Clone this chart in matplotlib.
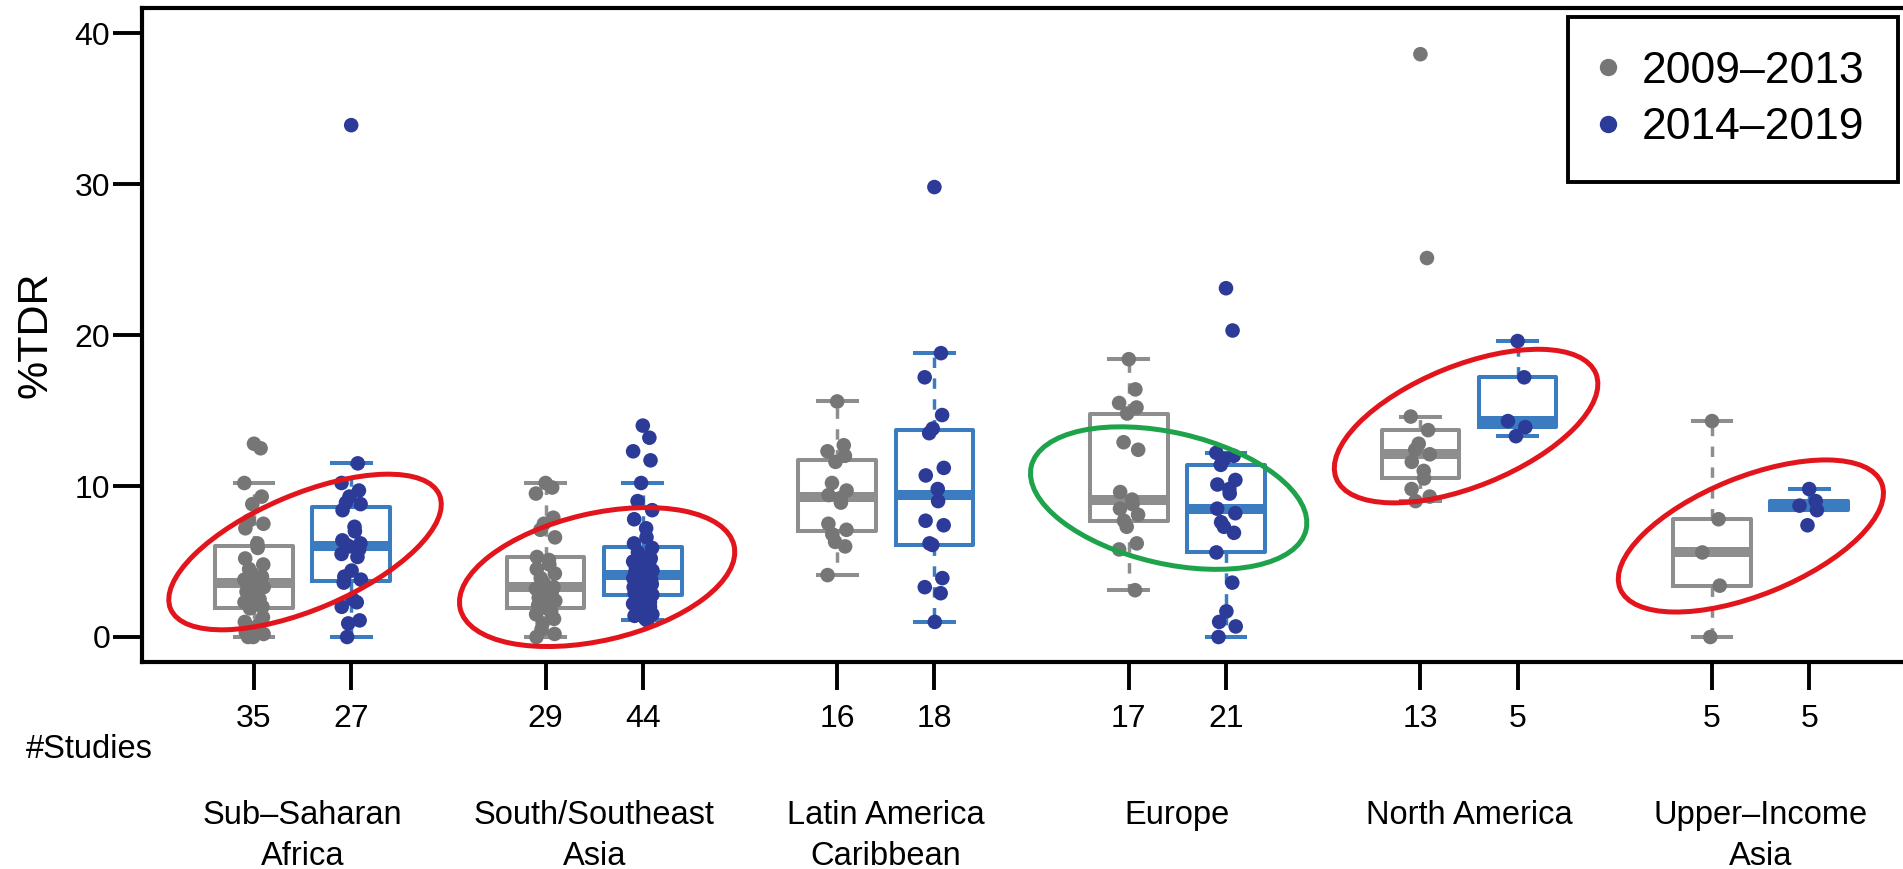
import numpy as np
import matplotlib.pyplot as plt
from matplotlib.patches import Ellipse
from matplotlib.lines import Line2D
from matplotlib.transforms import IdentityTransform, blended_transform_factory

plt.rcParams['font.family'] = ['Liberation Sans', 'DejaVu Sans']

# Regiuni si perioade
regions = ['Sub–Saharan\nAfrica', 'South/Southeast\nAsia', 'Latin America\nCaribbean',
           'Europe', 'North America', 'Upper–Income\nAsia']
periods = ['2009–2013', '2014–2019']

# %TDR pe studiu
ssa_0913 = [12.8, 12.5, 10.2, 9.3, 8.8, 7.7, 7.5, 7.2, 6.2, 5.9, 5.2, 4.8, 4.5, 4.2, 4.0, 3.8, 3.7, 3.6,
            3.5, 3.3, 3.0, 2.8, 2.5, 2.3, 2.0, 2.0, 1.9, 1.3, 1.0, 0.8, 0.5, 0.3, 0.2, 0.0, 0.0]
ssa_1419 = [33.9, 11.5, 10.2, 9.7, 9.3, 8.9, 8.8, 8.4, 7.3, 7.0, 6.4, 6.2, 6.1, 6.0, 5.8, 5.5, 5.3,
            4.4, 4.0, 3.8, 3.6, 2.5, 2.3, 2.0, 1.1, 0.9, 0.0]
ssea_0913 = [10.2, 9.9, 9.5, 7.9, 7.5, 7.1, 6.6, 5.3, 5.1, 4.8, 4.5, 4.2, 3.9, 3.6, 3.3, 3.2, 3.0,
             2.8, 2.6, 2.4, 2.1, 1.9, 1.7, 1.5, 1.2, 0.9, 0.5, 0.2, 0.0]
ssea_1419 = [14.0, 13.2, 12.3, 11.7, 10.2, 9.0, 8.4, 7.8, 7.2, 6.6, 6.2, 5.9, 5.6, 5.4, 5.2, 5.0, 4.9,
             4.7, 4.6, 4.4, 4.3, 4.2, 4.0, 3.9, 3.8, 3.7, 3.6, 3.5, 3.3, 3.2, 3.0, 2.9, 2.8, 2.6,
             2.5, 2.3, 2.2, 2.0, 1.9, 1.7, 1.5, 1.4, 1.2, 1.1]
latin_0913 = [15.6, 12.7, 12.3, 12.0, 11.6, 10.2, 9.7, 9.4, 9.2, 8.9, 7.5, 7.1, 6.8, 6.3, 6.0, 4.1]
latin_1419 = [29.8, 18.8, 17.2, 14.7, 13.8, 13.5, 11.2, 10.7, 9.8, 9.0, 7.7, 7.4, 6.2, 6.1, 3.9,
              3.3, 2.9, 1.0]
europe_0913 = [18.4, 16.4, 15.5, 15.2, 14.8, 12.9, 12.4, 9.6, 9.1, 8.8, 8.5, 8.1, 7.7, 7.3, 6.2, 5.8, 3.1]
europe_1419 = [23.1, 20.3, 12.2, 12.0, 11.8, 11.4, 10.4, 10.1, 9.8, 9.5, 8.5, 8.2, 7.6, 7.3, 6.9,
               5.6, 3.6, 1.7, 1.0, 0.7, 0.0]
na_0913 = [38.6, 25.1, 14.6, 13.7, 12.8, 12.4, 12.1, 11.6, 11.0, 10.5, 9.8, 9.3, 9.0]
na_1419 = [19.6, 17.2, 14.3, 13.9, 13.3]
uia_0913 = [14.3, 7.8, 5.6, 3.4, 0.0]
uia_1419 = [9.8, 9.0, 8.7, 8.4, 7.4]

date_0913 = [ssa_0913, ssea_0913, latin_0913, europe_0913, na_0913, uia_0913]
date_1419 = [ssa_1419, ssea_1419, latin_1419, europe_1419, na_1419, uia_1419]

# Culori
gri_cutie, gri_punct = '#8e8e8e', '#767676'
albastru_cutie, albastru_punct = '#3a7cbf', '#2c3b98'

fig = plt.figure(figsize=(19.03, 8.69), dpi=100)
ax = fig.add_axes([142 / 1903, 1 - 662 / 869, (1924 - 142) / 1903, (662 - 8) / 869])

poz_0913 = [3 * i + 1 for i in range(len(regions))]
poz_1419 = [3 * i + 2 for i in range(len(regions))]

for date, poz, cc, cp in [(date_0913, poz_0913, gri_cutie, gri_punct),
                          (date_1419, poz_1419, albastru_cutie, albastru_punct)]:
    ax.boxplot(date, positions=poz, widths=0.8, whis=1.5, showfliers=False,
               boxprops=dict(color=cc, linewidth=2.9),
               medianprops=dict(color=cc, linewidth=7.2, solid_capstyle='butt'),
               whiskerprops=dict(color=cc, linewidth=2.5, linestyle=(0, (3, 3))),
               capprops=dict(color=cc, linewidth=2.9),
               zorder=2)
    for valori, x in zip(date, poz):
        n = len(valori)
        jitter = 0.1 * np.sin(np.arange(n) * 2.39996)
        ax.scatter(x + jitter, valori, s=110, color=cp, edgecolors='none', zorder=3)

ax.set_xlim(1 - 112 / 97.2, 1 + 1670 / 97.2)
ax.set_ylim(-1.656, 41.66)

ax.set_yticks([0, 10, 20, 30, 40])
ax.tick_params(axis='y', length=21, width=2.8, labelsize=23, pad=2)
poz_toate = sorted(poz_0913 + poz_1419)
nr_studii = []
for i in range(len(regions)):
    nr_studii += [len(date_0913[i]), len(date_1419[i])]
ax.set_xticks(poz_toate)
ax.set_xticklabels([str(v) for v in nr_studii])
ax.tick_params(axis='x', length=20, width=2.8, labelsize=23, pad=10)
for s in ax.spines.values():
    s.set_linewidth(3)

fig.text(35 / 1903, 1 - 335 / 869, '%TDR', rotation=90, ha='center', va='center', fontsize=31)
fig.text(89 / 1903, 1 - 758 / 869, '#Studies', ha='center', va='baseline', fontsize=23.5)

tr = blended_transform_factory(ax.transData, fig.transFigure)
for i, nume in enumerate(regions):
    ax.text(3 * i + 1.5, 1 - 800 / 869, nume, transform=tr, ha='center', va='top',
            fontsize=23.5, linespacing=1.4, multialignment='center')

# Legenda
manere = [Line2D([], [], marker='o', linestyle='none', color=gri_punct, markersize=11.5),
          Line2D([], [], marker='o', linestyle='none', color=albastru_punct, markersize=11.5)]
leg = ax.legend(manere, periods, loc='upper right', bbox_to_anchor=(1898 / 1903, 1 - 17 / 869),
                bbox_transform=fig.transFigure, borderaxespad=0, fontsize=32, frameon=True,
                fancybox=False, edgecolor='black', framealpha=1, borderpad=0.76,
                handlelength=0.3, handletextpad=0.6, labelspacing=0.35)
leg.get_frame().set_linewidth(2.8)

# Elipse de evidentiere (centru in unitati de date, dimensiuni in pixeli)
elipse = [((1.525, 5.63), 292, 115, 23, '#e3151c'),
          ((4.53, 3.97), 281, 127, 13, '#e3151c'),
          ((10.41, 9.2), 282, 131, -13, '#1ea34b'),
          ((13.47, 13.97), 280, 121, 22, '#e3151c'),
          ((16.40, 6.69), 282, 118, 22, '#e3151c')]
for centru, w, h, unghi, culoare in elipse:
    cx, cy = ax.transData.transform(centru)
    ax.add_patch(Ellipse((cx, cy), w, h, angle=unghi, fill=False, edgecolor=culoare,
                         linewidth=3.6, transform=IdentityTransform(), zorder=4))

fig.savefig('out.png', dpi=100)
